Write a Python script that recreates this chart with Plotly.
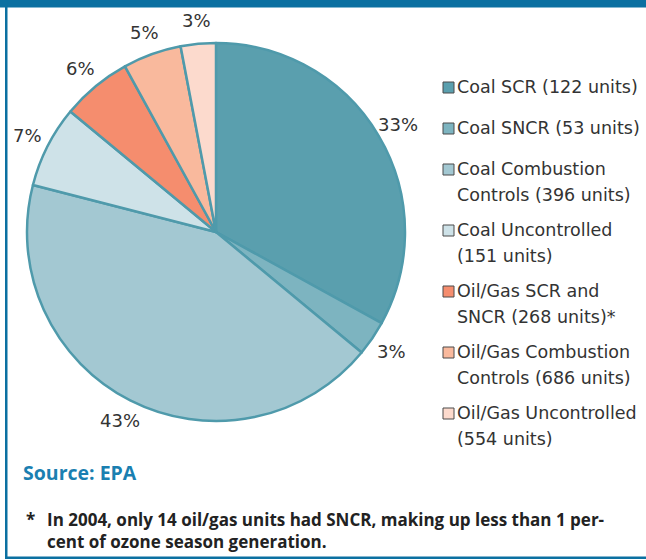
import math
import plotly.graph_objects as go

# ---- data ----
categories = [
    "Coal SCR (122 units)",
    "Coal SNCR (53 units)",
    "Coal Combustion Controls (396 units)",
    "Coal Uncontrolled (151 units)",
    "Oil/Gas SCR and SNCR (268 units)*",
    "Oil/Gas Combustion Controls (686 units)",
    "Oil/Gas Uncontrolled (554 units)",
]
legend_lines = [
    ["Coal SCR (122 units)"],
    ["Coal SNCR (53 units)"],
    ["Coal Combustion", "Controls (396 units)"],
    ["Coal Uncontrolled", "(151 units)"],
    ["Oil/Gas SCR and", "SNCR (268 units)*"],
    ["Oil/Gas Combustion", "Controls (686 units)"],
    ["Oil/Gas Uncontrolled", "(554 units)"],
]
shares = [33, 3, 43, 7, 6, 5, 3]

colors = ["#5a9fae", "#7db4c0", "#a3c8d2", "#cee2e8", "#f58d6e", "#f9b99d", "#fcdacd"]

W, H = 646, 560
cx, cy, r = 216, 232, 189

fig = go.Figure()
fig.add_trace(go.Pie(
    labels=categories,
    values=shares,
    sort=False,
    direction="clockwise",
    rotation=0,
    marker=dict(colors=colors, line=dict(color="#4f9aab", width=2.5)),
    textinfo="none",
    showlegend=False,
    hoverinfo="label+percent",
    domain=dict(x=[(cx - r) / W, (cx + r) / W], y=[(H - cy - r) / H, (H - cy + r) / H]),
))

shapes = []
annotations = []

# percentage labels placed outside each slice along its mid angle
total = sum(shares)
cum = 0
label_r = 212
for v in shares:
    mid = (cum + v / 2) / total * 2 * math.pi
    cum += v
    px = cx + label_r * math.sin(mid)
    py = cy - label_r * math.cos(mid)
    annotations.append(dict(text=f"{v}%", xref="paper", yref="paper", x=px / W, y=1 - py / H,
                            xanchor="center", yanchor="middle", showarrow=False,
                            font=dict(family="DejaVu Sans", size=18, color="#333333")))

# frame
frame_col = "#0b70a1"
shapes.append(dict(type="rect", xref="paper", yref="paper", x0=0, x1=1, y0=1 - 7.5 / H, y1=1,
                   fillcolor=frame_col, line=dict(width=0), layer="above"))
shapes.append(dict(type="rect", xref="paper", yref="paper", x0=5 / W, x1=7.5 / W, y0=1 - 559 / H, y1=1,
                   fillcolor=frame_col, line=dict(width=0), layer="above"))
shapes.append(dict(type="rect", xref="paper", yref="paper", x0=5 / W, x1=1, y0=1 - 559 / H, y1=1 - 556.5 / H,
                   fillcolor=frame_col, line=dict(width=0), layer="above"))

# legend (manual)
y = 87
for lines, col in zip(legend_lines, colors):
    shapes.append(dict(type="rect", xref="paper", yref="paper",
                       x0=443 / W, x1=454 / W, y0=1 - (y + 6) / H, y1=1 - (y - 5) / H,
                       fillcolor=col, line=dict(color="#4a4a4a", width=1)))
    for i, ln in enumerate(lines):
        annotations.append(dict(text=ln, xref="paper", yref="paper", x=455 / W, y=1 - (y + 26 * i) / H,
                                xanchor="left", yanchor="middle", showarrow=False,
                                font=dict(family="DejaVu Sans", size=17.5, color="#333333")))
    y += 41 if len(lines) == 1 else 61

annotations.append(dict(text="<b>Source: EPA</b>", xref="paper", yref="paper", x=21 / W, y=1 - 472 / H,
                        xanchor="left", yanchor="middle", showarrow=False,
                        font=dict(family="Open Sans", size=19.5, color="#1a7fb1")))
annotations.append(dict(text="<b>*</b>", xref="paper", yref="paper", x=24 / W, y=1 - 519 / H,
                        xanchor="left", yanchor="middle", showarrow=False,
                        font=dict(family="Open Sans", size=17, color="#222222")))
annotations.append(dict(text="<b>In 2004, only 14 oil/gas units had SNCR, making up less than 1 per-</b>",
                        xref="paper", yref="paper", x=45 / W, y=1 - 519 / H,
                        xanchor="left", yanchor="middle", showarrow=False,
                        font=dict(family="Open Sans", size=17, color="#222222")))
annotations.append(dict(text="<b>cent of ozone season generation.</b>",
                        xref="paper", yref="paper", x=45 / W, y=1 - 541 / H,
                        xanchor="left", yanchor="middle", showarrow=False,
                        font=dict(family="Open Sans", size=17, color="#222222")))

fig.update_layout(
    width=W, height=H,
    margin=dict(l=0, r=0, t=0, b=0),
    paper_bgcolor="white",
    plot_bgcolor="white",
    shapes=shapes,
    annotations=annotations,
)

fig.write_html("out.html",
               config={"displayModeBar": False},
               post_script="document.body.style.margin='0';document.body.style.overflow='hidden';")
